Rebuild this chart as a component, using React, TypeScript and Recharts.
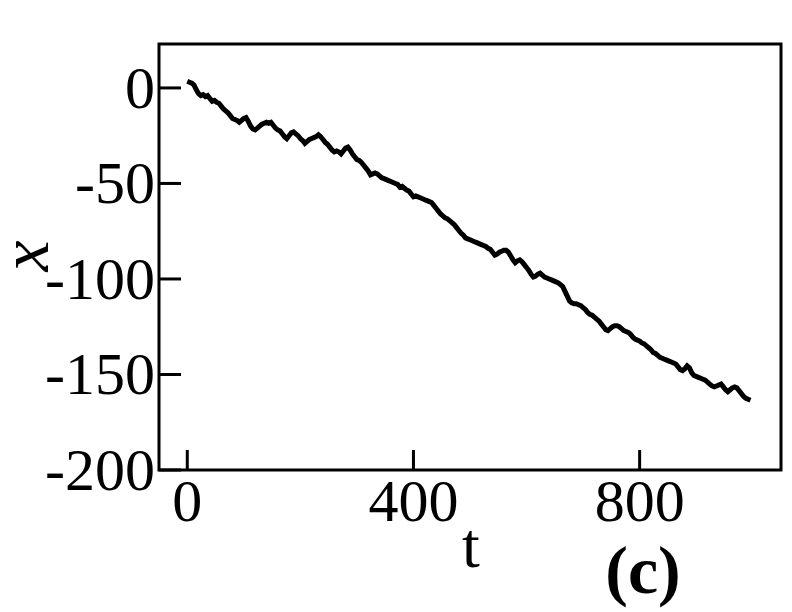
import { LineChart, Line, XAxis, YAxis, ReferenceArea, Customized } from "recharts";

const STEP = 4;
const position = [
  3.5, 3, 2.5, 1.5, -1, -3, -4, -3.5, -4.5, -4, -5.5, -7, -6.5, -7.5, -8, -9.5,
  -11, -12, -13, -14.5, -16, -16.5, -17, -18, -17, -16, -15.5, -17.5, -20, -21.5,
  -22, -21, -20, -19, -18.5, -18, -18.5, -18, -19.5, -21, -22, -22.5, -24, -25.5,
  -26.5, -25, -23.5, -23, -24, -25, -26.5, -27.5, -29, -28, -27, -26.5, -26, -25.5,
  -24.5, -25.5, -27, -28.5, -29.5, -31, -32.5, -33.5, -33, -33.5, -34.5, -33, -31.5,
  -31, -32.5, -34.5, -36, -37.5, -38, -39, -40.5, -42, -43.5, -45.5, -45, -44.5, -45,
  -46, -47, -47.5, -48, -48.5, -49, -49.5, -50, -50.5, -52, -51.5, -52.5, -53.5, -54,
  -55.5, -57, -56.5, -57, -57.5, -58, -58.5, -59, -59.5, -60, -61.5, -63, -64.5, -66,
  -67, -68, -68.5, -69.5, -70.5, -71.5, -73, -74.5, -76, -77, -78.5, -79, -79.5, -80,
  -80.5, -81, -81.5, -82, -82.5, -83, -84, -84.5, -86, -87.5, -87, -86, -85.5, -85,
  -85, -86, -88, -90, -91.5, -90.5, -90, -91, -92.5, -94, -95.5, -97.5, -99, -98.5,
  -97.5, -97, -98, -99, -99.5, -100, -100.5, -101, -101.5, -102, -103, -104, -106.5,
  -109, -111.5, -112.5, -113, -113, -113.5, -114, -115, -116, -117.5, -118.5, -119,
  -120, -121, -122, -123.5, -125, -126.5, -127, -126, -125, -124.5, -124.5, -125,
  -126, -127, -127.5, -128, -129, -130.5, -131.5, -132, -132.5, -133.5, -134, -135,
  -136, -137, -138.5, -139, -140, -141, -141.5, -142, -142.5, -143, -143.5, -144,
  -144.5, -146, -147.5, -148, -147, -145.5, -146.5, -149, -150.5, -151, -151.5, -152,
  -152.5, -153, -154, -155, -156, -156.5, -156, -155.5, -155, -156.5, -158, -159, -158,
  -157, -156.5, -157, -158.5, -160, -161.5, -162.5, -163, -163.5,
];
const xTicks = [0, 400, 800];
const yTicks = [0, -50, -100, -150, -200];

const data = position.map((x, i) => ({ t: i * STEP, x }));

const serif = "'Liberation Serif', 'Times New Roman', serif";

function YTick({ x, y, payload }: any) {
  return (
    <g>
      <line x1={x} x2={x + 22} y1={y} y2={y} stroke="#000" strokeWidth={3} />
      <text x={x - 4} y={y} textAnchor="end" dominantBaseline="central" fontFamily={serif} fontSize={60} fill="#000">
        {payload.value}
      </text>
    </g>
  );
}

function XTick({ x, y, payload }: any) {
  return (
    <g>
      <line x1={x} x2={x} y1={y} y2={y - 20} stroke="#000" strokeWidth={3} />
      <text x={x} y={y + 51} textAnchor="middle" fontFamily={serif} fontSize={60} fill="#000">
        {payload.value}
      </text>
    </g>
  );
}

function Titles() {
  return (
    <g fontFamily={serif} fill="#000">
      <text x={471} y={567} textAnchor="middle" fontSize={64}>t</text>
      <text x={643} y={593} textAnchor="middle" fontSize={68} fontWeight="bold">(c)</text>
      <text x={48} y={256} textAnchor="middle" fontSize={70} fontStyle="italic" transform="rotate(-90 48 256)">x</text>
    </g>
  );
}

export default function App() {
  return (
    <div style={{ position: "absolute", left: 0, top: 0, background: "#fff" }}>
      <LineChart width={792} height={612} data={data} margin={{ top: 44, right: 11, bottom: 0, left: 0 }}>
        <XAxis
          dataKey="t"
          type="number"
          domain={[-50, 1050]}
          ticks={xTicks}
          height={142}
          axisLine={false}
          tickLine={false}
          tickSize={0}
          tickMargin={0}
          tick={<XTick />}
          allowDataOverflow
        />
        <YAxis
          type="number"
          domain={[-200, 23]}
          ticks={yTicks}
          width={159}
          axisLine={false}
          tickLine={false}
          tickSize={0}
          tickMargin={0}
          tick={<YTick />}
          allowDataOverflow
        />
        <ReferenceArea x1={-50} x2={1050} y1={-200} y2={23} fill="none" stroke="#000" strokeWidth={3} ifOverflow="visible" />
        <Line dataKey="x" type="linear" stroke="#000" strokeWidth={5} dot={false} isAnimationActive={false} />
        <Customized component={Titles} />
      </LineChart>
    </div>
  );
}
